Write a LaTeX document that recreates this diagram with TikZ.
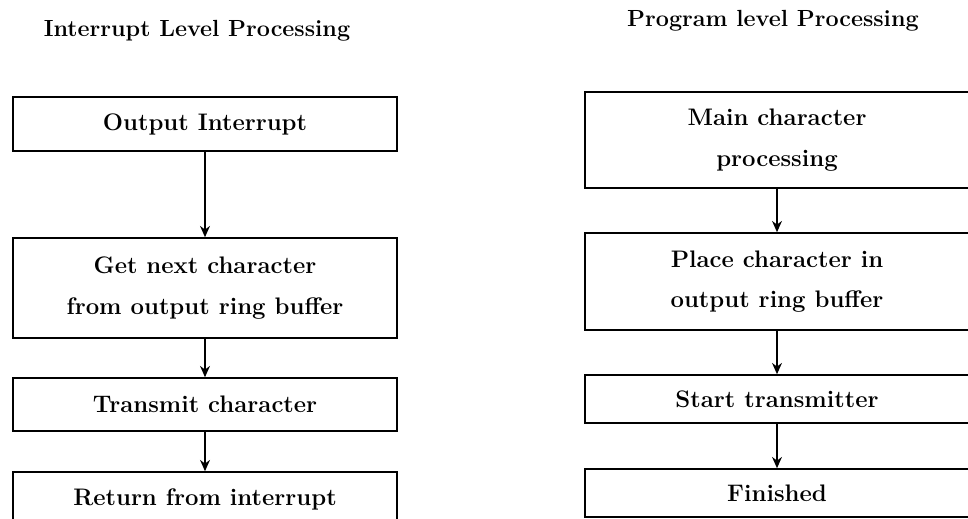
\documentclass[tikz,border=0pt]{standalone}
\usepackage{amsmath,amssymb,tikz,xcolor}
\usetikzlibrary{arrows.meta}

\begin{document}
\begin{tikzpicture}[x=0.025cm,y=-0.025cm,
                box/.style={draw,line width=1.1pt,minimum width=9.6cm,align=center,inner sep=0pt,
                    font=\fontsize{17}{29}\selectfont\bfseries},
                title/.style={font=\fontsize{16.6}{20}\selectfont\bfseries},
                flow/.style={-{Stealth[length=8pt,width=7pt]},line width=1.1pt}]
                \useasboundingbox (0,0) rectangle (968,519);
                \node[title] (intitle) at (197,31) {Interrupt Level Processing};
                \node[title] (progtitle) at (773,21) {Program level Processing};
                \node[box,minimum height=1.35cm] (out) at (205,124) {Output Interrupt};
                \node[box,minimum height=2.5cm] (getc) at (205,288) {Get next character\\from output ring buffer};
                \node[box,minimum height=1.325cm] (trans) at (205,404.5) {Transmit character};
                \node[box,minimum height=1.35cm] (ret) at (205,499) {Return from interrupt};
                \node[box,minimum height=2.4cm] (mainc) at (777,140) {Main character\\processing};
                \node[box,minimum height=2.425cm] (place) at (777,281.5) {Place character in\\output ring buffer};
                \node[box,minimum height=1.2cm] (start) at (777,399) {Start transmitter};
                \node[box,minimum height=1.2cm] (fin) at (777,493) {Finished};
                \draw[flow] (out) -- (getc);
                \draw[flow] (getc) -- (trans);
                \draw[flow] (trans) -- (ret);
                \draw[flow] (mainc) -- (place);
                \draw[flow] (place) -- (start);
                \draw[flow] (start) -- (fin);
            \end{tikzpicture}
\end{document}
